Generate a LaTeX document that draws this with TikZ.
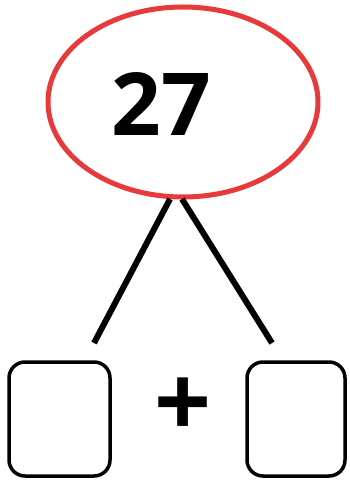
\documentclass[tikz,border=0pt]{standalone}
\usepackage{fontspec}
\setmainfont{Open Sans}
\definecolor{bondred}{RGB}{232,58,58}
\tikzset{
  whole/.style={draw=bondred,line width=5pt,ellipse,minimum width=270pt,minimum height=190pt,inner sep=0pt},
  partbox/.style={draw,line width=3.5pt,rounded corners=16pt,minimum height=114pt,inner sep=0pt},
  bond/.style={line width=6pt}
}
\usetikzlibrary{shapes.geometric}
\begin{document}
\begin{tikzpicture}[x=1pt,y=-1pt]
\useasboundingbox (0,0) rectangle (349,481);

\node[whole] (total) at (183,102) {};
\node (num) at (161,104) {\fontsize{87}{87}\selectfont\bfseries 27};

\node[partbox,minimum width=101pt] (partA) at (59.5,419) {};
\node[partbox,minimum width=98pt] (partB) at (296,419) {};
\node (plus) at (183,408) {\fontsize{100}{100}\selectfont\bfseries +};

\coordinate (topA) at (170,199);
\coordinate (topB) at (182,199);
\coordinate (endA) at (94,343);
\coordinate (endB) at (272,343);

\draw[bond] (topA) -- (endA);
\draw[bond] (topB) -- (endB);
\end{tikzpicture}
\end{document}
